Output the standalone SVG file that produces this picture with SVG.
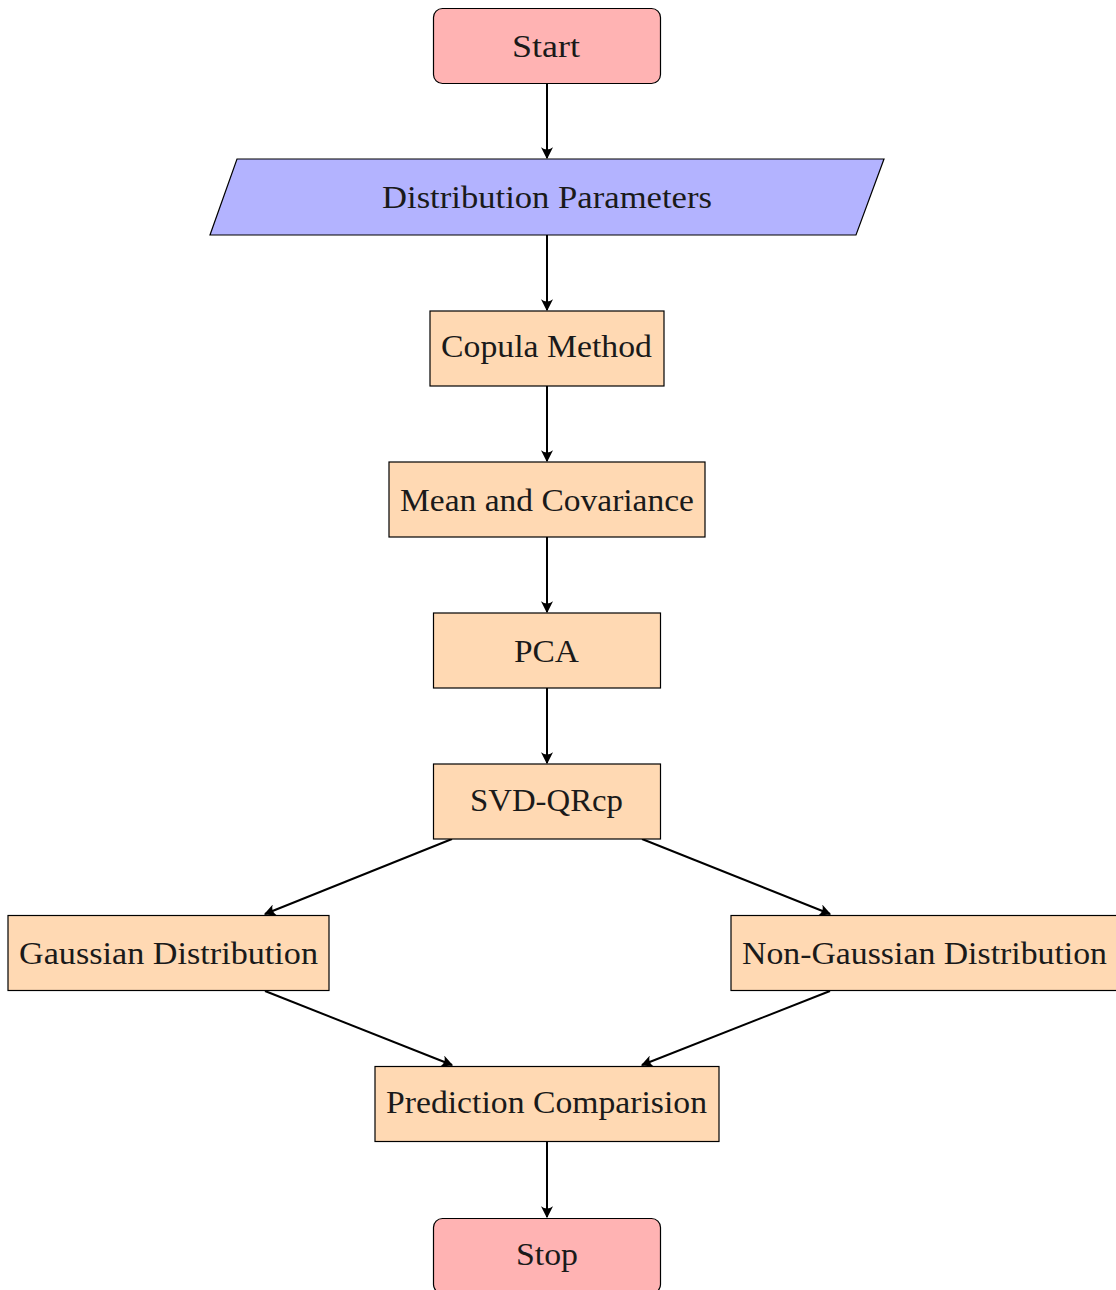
<svg xmlns="http://www.w3.org/2000/svg" width="1116" height="1290" viewBox="0 0 1116 1290">
<style>
.n{stroke:#000;stroke-width:1.2}
.t{fill:#ffb3b3}
.io{fill:#b3b3ff}
.p{fill:#ffd9b3}
text{font-family:"Liberation Serif","DejaVu Serif",serif;font-size:31px;fill:#1a1a1a;text-anchor:middle;dominant-baseline:central}
.c{stroke:#000;stroke-width:2;fill:none;marker-end:url(#ah)}
</style>
<defs>
<marker id="ah" viewBox="0 0 10 10" refX="9" refY="5" markerWidth="6" markerHeight="6" orient="auto" markerUnits="strokeWidth">
<path d="M0,0 Q4,5 0,10 L10,5 Z" fill="#000"/>
</marker>
</defs>
<g id="connectors">
<line class="c" x1="547" y1="83" x2="547" y2="158"/>
<line class="c" x1="547" y1="235" x2="547" y2="310"/>
<line class="c" x1="547" y1="386" x2="547" y2="461"/>
<line class="c" x1="547" y1="537" x2="547" y2="612"/>
<line class="c" x1="547" y1="688" x2="547" y2="763"/>
<line class="c" x1="452" y1="839" x2="265" y2="914"/>
<line class="c" x1="642" y1="839" x2="830" y2="914"/>
<line class="c" x1="265" y1="991" x2="452" y2="1065"/>
<line class="c" x1="830" y1="991" x2="642" y2="1065"/>
<line class="c" x1="547" y1="1142" x2="547" y2="1217"/>
</g>
<g id="start"><rect class="n t" x="433.5" y="8.5" width="227" height="75" rx="9"/><text x="546" y="46" textLength="68" lengthAdjust="spacingAndGlyphs">Start</text></g>
<g id="params"><polygon class="n io" points="237,159 884,159 856,235 210,235"/><text x="547" y="197" textLength="330" lengthAdjust="spacingAndGlyphs">Distribution Parameters</text></g>
<g id="copula"><rect class="n p" x="430" y="311" width="234" height="75"/><text x="546.5" y="346" textLength="211" lengthAdjust="spacingAndGlyphs">Copula Method</text></g>
<g id="meancov"><rect class="n p" x="389" y="462" width="316" height="75"/><text x="547" y="500" textLength="294" lengthAdjust="spacingAndGlyphs">Mean and Covariance</text></g>
<g id="pca"><rect class="n p" x="433.5" y="613" width="227" height="75"/><text x="546.5" y="651" textLength="65" lengthAdjust="spacingAndGlyphs">PCA</text></g>
<g id="svd"><rect class="n p" x="433.5" y="764" width="227" height="75"/><text x="546.5" y="800" textLength="153" lengthAdjust="spacingAndGlyphs">SVD-QRcp</text></g>
<g id="gauss"><rect class="n p" x="8" y="915.5" width="321" height="75"/><text x="168.5" y="953" textLength="299" lengthAdjust="spacingAndGlyphs">Gaussian Distribution</text></g>
<g id="nongauss"><rect class="n p" x="731" y="915.5" width="386" height="75"/><text x="924.5" y="953" textLength="365" lengthAdjust="spacingAndGlyphs">Non-Gaussian Distribution</text></g>
<g id="pred"><rect class="n p" x="375" y="1066.5" width="344" height="75"/><text x="546.5" y="1102" textLength="321" lengthAdjust="spacingAndGlyphs">Prediction Comparision</text></g>
<g id="stop"><rect class="n t" x="433.5" y="1218.5" width="227" height="75" rx="9"/><text x="547" y="1254" textLength="62" lengthAdjust="spacingAndGlyphs">Stop</text></g>
</svg>
